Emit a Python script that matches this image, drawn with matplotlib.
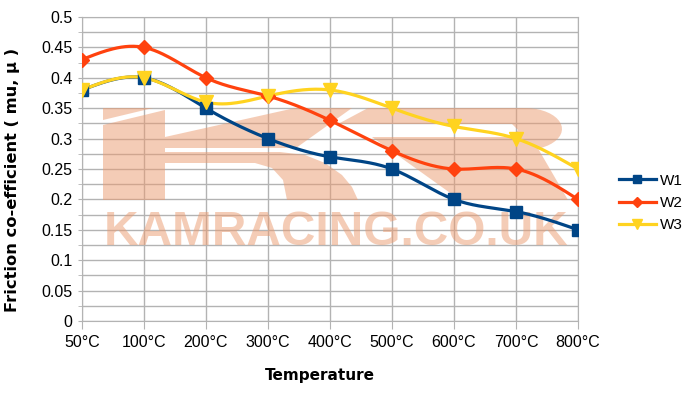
import numpy as np
import matplotlib
matplotlib.use("Agg")
import matplotlib.pyplot as plt
from matplotlib.patches import Polygon
from matplotlib.lines import Line2D
from matplotlib.ticker import MultipleLocator, FuncFormatter

temps = ["50°C", "100°C", "200°C", "300°C", "400°C", "500°C", "600°C", "700°C", "800°C"]
w1 = [0.38, 0.40, 0.35, 0.30, 0.27, 0.25, 0.20, 0.18, 0.15]
w2 = [0.43, 0.45, 0.40, 0.37, 0.33, 0.28, 0.25, 0.25, 0.20]
w3 = [0.38, 0.40, 0.36, 0.37, 0.38, 0.35, 0.32, 0.30, 0.25]
series = [("W1", w1, "#004586", "s", 8.5), ("W2", w2, "#ff420e", "D", 7), ("W3", w3, "#ffd320", "v", 10)]

plt.rcParams["font.family"] = ["Liberation Sans", "DejaVu Sans"]

W, H = 686, 396


def spline(y, n=30):
    # natural cubic spline through the points, like the "smooth" line option
    y = np.asarray(y, float)
    k = len(y)
    A = np.zeros((k, k))
    b = np.zeros(k)
    A[0, 0] = A[-1, -1] = 1
    for i in range(1, k - 1):
        A[i, i - 1], A[i, i], A[i, i + 1] = 1, 4, 1
        b[i] = 6 * (y[i - 1] - 2 * y[i] + y[i + 1])
    M = np.linalg.solve(A, b)
    xs, ys = [], []
    for i in range(k - 1):
        t = np.linspace(0, 1, n, endpoint=(i == k - 2))
        ys.append((1 - t) * y[i] + t * y[i + 1]
                  + (M[i] * ((1 - t) ** 3 - (1 - t)) + M[i + 1] * (t ** 3 - t)) / 6)
        xs.append(i + t)
    return np.concatenate(xs), np.concatenate(ys)


def px(pts):
    return [(x / W, 1 - y / H) for x, y in pts]


fig = plt.figure(figsize=(W / 100, H / 100), dpi=100)
ax = fig.add_axes([82 / W, 1 - 321 / H, 496 / W, 304 / H])

x = np.arange(len(temps))
for name, vals, col, mk, ms in series:
    sx, sy = spline(vals)
    ax.plot(sx, sy, color=col, lw=2.3, zorder=3, solid_capstyle="round")
    ax.plot(x, vals, ls="none", marker=mk, ms=ms, color=col, zorder=4)

# watermark logo
wm = dict(facecolor="#eb9a6e", edgecolor="none", alpha=0.5, transform=fig.transFigure, zorder=1)
ang = np.linspace(np.pi / 2, -np.pi / 2.6, 20)
r_arc = [(525 + 37 * np.cos(a), 129 - 21 * np.sin(a)) for a in ang]
shapes = [
    [(103, 108), (153, 108), (103, 120)],
    [(103, 125), (165, 110), (165, 200), (103, 200)],
    [(165, 137), (295, 108), (352, 108), (296, 148), (165, 148)],
    [(165, 152), (280, 152), (305, 155), (325, 163), (342, 175), (352, 187), (358, 200),
     (287, 200), (283, 180), (272, 168), (255, 163), (165, 163)],
    [(338, 124), (368, 108)] + r_arc + [(568, 200), (460, 200), (372, 137), (512, 137),
                                        (518, 130), (512, 124)],
]
for s in shapes:
    ax.add_patch(Polygon(px(s), closed=True, **wm))
ax.text(104 / W, 1 - 245 / H, "KAMRACING.CO.UK", transform=fig.transFigure, fontsize=34.4,
        fontweight="bold", family="Liberation Sans", color="#eb9a6e", alpha=0.5, zorder=1)

ax.set_xlim(0, len(temps) - 1)
ax.set_ylim(0, 0.5)
ax.set_xticks(x)
ax.set_xticklabels(temps, fontsize=11.5)
ax.yaxis.set_major_locator(MultipleLocator(0.05))
ax.yaxis.set_minor_locator(MultipleLocator(0.025))
ax.yaxis.set_major_formatter(FuncFormatter(lambda v, p: f"{round(v, 3):g}"))
ax.tick_params(axis="y", labelsize=11.5, length=3, color="#b3b3b3", pad=4)
ax.tick_params(axis="y", which="minor", length=3, color="#b3b3b3")
ax.tick_params(axis="x", length=6, color="#b3b3b3", pad=4)
ax.grid(True, which="both", axis="y", color="#b3b3b3", lw=1)
ax.grid(True, axis="x", color="#b3b3b3", lw=1)
ax.set_axisbelow(True)
for sp in ax.spines.values():
    sp.set_color("#b3b3b3")

ax.set_xlabel("Temperature", family="DejaVu Sans", fontweight="bold", fontsize=11)
ax.set_ylabel("Friction co-efficient ( mu, μ )", family="DejaVu Sans", fontweight="bold", fontsize=11.7)
ax.xaxis.set_label_coords(0.48, -0.155)
ax.yaxis.set_label_coords(-0.125, 0.464)

handles = [Line2D([], [], color=c, lw=2.3, marker=m, ms=ms * 0.7) for _, _, c, m, ms in series]
fig.legend(handles, [s[0] for s in series], loc="center left", bbox_to_anchor=(619 / W, 1 - 203 / H),
           frameon=False, fontsize=11, handlelength=2.4, handletextpad=0.3, labelspacing=0.55,
           borderpad=0, borderaxespad=0)

fig.savefig("out.png", dpi=100)
